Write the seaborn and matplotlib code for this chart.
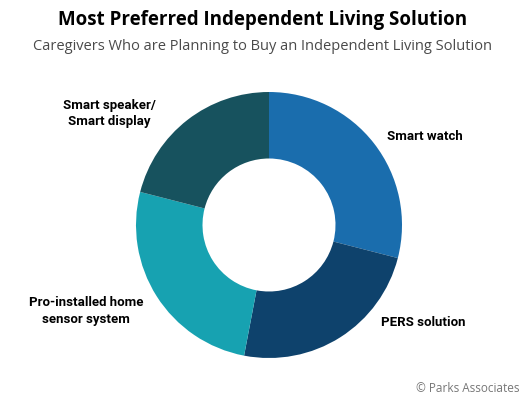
import matplotlib
matplotlib.use("Agg")
import matplotlib.pyplot as plt
import seaborn as sns

# share of caregivers (clockwise from 12 o'clock)
solutions = ["Smart watch", "PERS solution", "Pro-installed home\nsensor system",
             "Smart speaker/\nSmart display"]
shares = [29, 24, 26, 21]
colors = ["#1a6dad", "#0e426c", "#17a2b1", "#17525e"]

sns.set_theme(style="white")
plt.rcParams["font.family"] = ["Roboto", "DejaVu Sans"]

fig = plt.figure(figsize=(5.25, 4), dpi=100)
ax = fig.add_axes([(269 - 133) / 525, (400 - 225 - 133) / 400, 266 / 525, 266 / 400])
ax.pie(shares, colors=colors, startangle=90, counterclock=False,
       wedgeprops=dict(width=0.5, linewidth=0))
ax.set_xlim(-1, 1)
ax.set_ylim(-1, 1)
ax.set_aspect("equal")
ax.axis("off")

# labels beside each slice
label_pos = [(425 / 525, 1 - 137 / 400), (423 / 525, 1 - 323 / 400),
             (86 / 525, 1 - 311 / 400), (109 / 525, 1 - 114 / 400)]
for name, (x, y) in zip(solutions, label_pos):
    fig.text(x, y, name, ha="center", va="center", fontsize=9.5,
             fontweight="bold", color="black", linespacing=1.3)

fig.text(0.5, 1 - 20 / 400, "Most Preferred Independent Living Solution",
         ha="center", va="center", fontsize=13.5, fontweight="bold",
         color="black", family=["Open Sans", "DejaVu Sans"])
fig.text(0.5, 1 - 47 / 400,
         "Caregivers Who are Planning to Buy an Independent Living Solution",
         ha="center", va="center", fontsize=10.5, color="#4a4a4a",
         family=["Open Sans", "DejaVu Sans"])
fig.text(519 / 525, 1 - 389 / 400, "\u00a9 Parks Associates", ha="right",
         va="center", fontsize=8.5, color="#777777",
         family=["Open Sans", "DejaVu Sans"])

fig.savefig("out.png", dpi=100, facecolor="white")
